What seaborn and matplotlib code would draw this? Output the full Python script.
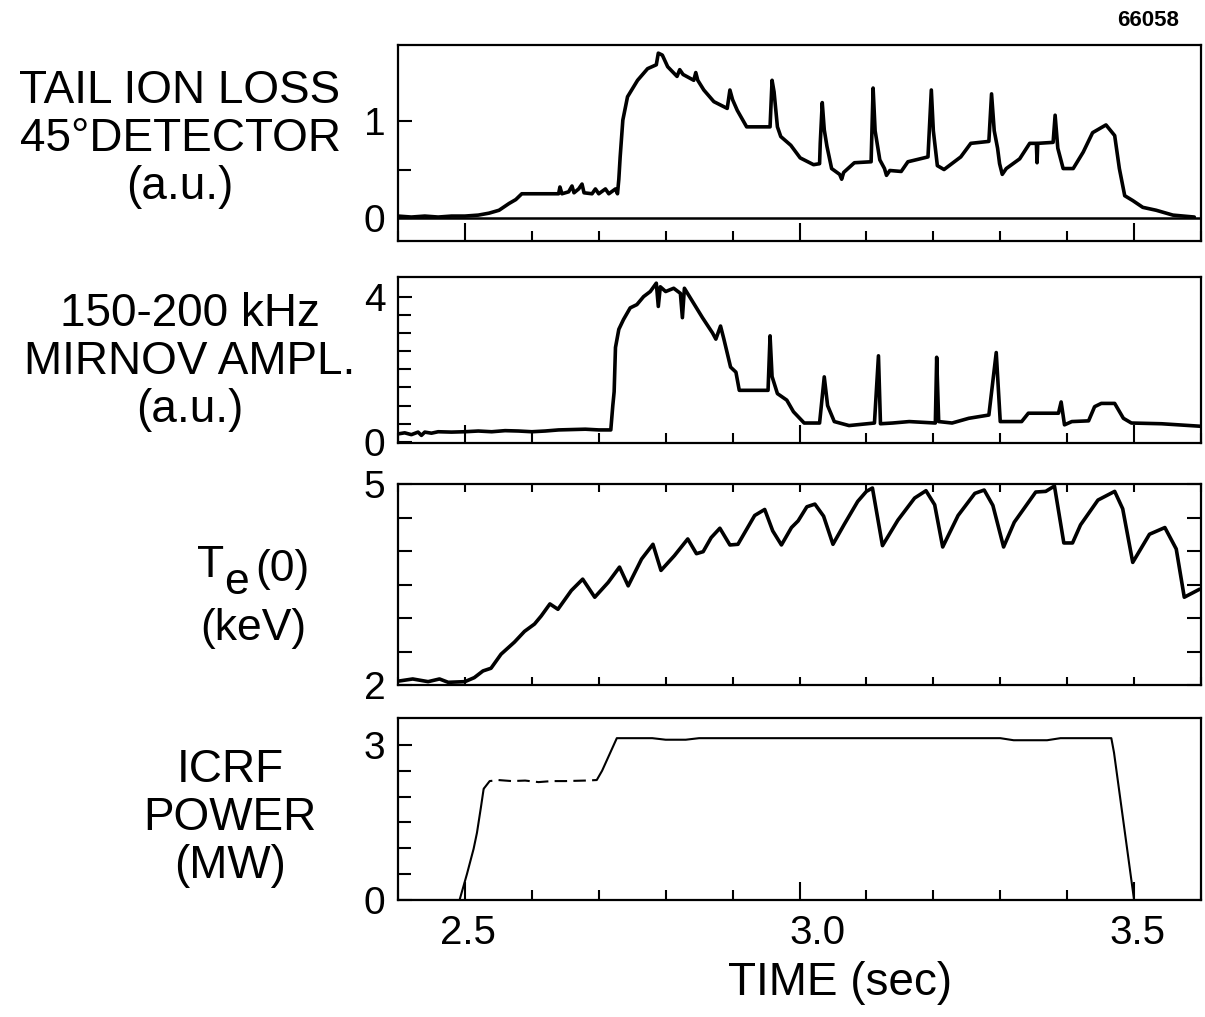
import matplotlib
matplotlib.use("Agg")
import matplotlib.pyplot as plt
from matplotlib.ticker import MultipleLocator, FixedLocator
import matplotlib.transforms as mtrans
import numpy as np
import pandas as pd
import seaborn as sns

# ---------------- data ----------------
loss_t = [2.40, 2.42, 2.44, 2.46, 2.48, 2.50, 2.52, 2.536, 2.551, 2.566, 2.576, 2.585, 2.60,
          2.62, 2.64, 2.642, 2.645, 2.655, 2.66, 2.663, 2.67, 2.675, 2.678, 2.69, 2.695, 2.70,
          2.71, 2.715, 2.725, 2.728, 2.730, 2.732, 2.736, 2.743, 2.758, 2.773, 2.786, 2.789,
          2.795, 2.803, 2.817, 2.821, 2.826, 2.842, 2.845, 2.848, 2.857, 2.872, 2.892, 2.896,
          2.900, 2.907, 2.921, 2.956, 2.959, 2.962, 2.967, 2.972, 2.987, 3.001, 3.021, 3.030,
          3.031, 3.034, 3.037, 3.041, 3.048, 3.060, 3.063, 3.066, 3.082, 3.107, 3.110, 3.113,
          3.120, 3.127, 3.130, 3.135, 3.152, 3.162, 3.192, 3.197, 3.200, 3.206, 3.216, 3.241,
          3.256, 3.283, 3.287, 3.291, 3.296, 3.299, 3.303, 3.309, 3.329, 3.344, 3.354, 3.355,
          3.356, 3.379, 3.382, 3.386, 3.394, 3.409, 3.424, 3.438, 3.458, 3.471, 3.478, 3.486,
          3.498, 3.513, 3.533, 3.558, 3.59]
loss_v = [0.02, 0.01, 0.02, 0.01, 0.02, 0.02, 0.03, 0.05, 0.08, 0.15, 0.19, 0.25, 0.25,
          0.25, 0.25, 0.32, 0.25, 0.27, 0.33, 0.26, 0.30, 0.35, 0.26, 0.25, 0.30, 0.25,
          0.30, 0.25, 0.30, 0.25, 0.40, 0.63, 1.01, 1.25, 1.42, 1.54, 1.58, 1.70,
          1.68, 1.56, 1.46, 1.53, 1.48, 1.42, 1.50, 1.42, 1.32, 1.20, 1.13, 1.32,
          1.22, 1.11, 0.94, 0.94, 1.42, 1.30, 0.94, 0.84, 0.75, 0.62, 0.55, 0.56,
          0.77, 1.19, 0.91, 0.74, 0.51, 0.45, 0.40, 0.47, 0.57, 0.58, 1.34, 0.90,
          0.60, 0.51, 0.44, 0.49, 0.48, 0.58, 0.63, 1.32, 0.90, 0.54, 0.50, 0.63,
          0.77, 0.79, 1.28, 0.90, 0.72, 0.56, 0.45, 0.51, 0.61, 0.77, 0.77, 0.57,
          0.77, 0.78, 1.06, 0.72, 0.51, 0.51, 0.68, 0.88, 0.96, 0.85, 0.51, 0.23,
          0.18, 0.11, 0.08, 0.03, 0.01]

mirnov_t = [2.40, 2.41, 2.42, 2.43, 2.435, 2.44, 2.45, 2.46, 2.48, 2.50, 2.52, 2.54, 2.56,
            2.58, 2.60, 2.62, 2.64, 2.66, 2.68, 2.70, 2.718, 2.721, 2.723, 2.725, 2.730,
            2.737, 2.747, 2.757, 2.767, 2.777, 2.786, 2.789, 2.792, 2.800, 2.812, 2.822,
            2.825, 2.828, 2.840, 2.855, 2.870, 2.875, 2.882, 2.887, 2.897, 2.905, 2.910,
            2.940, 2.953, 2.956, 2.959, 2.967, 2.981, 2.991, 3.007, 3.030, 3.037, 3.042,
            3.052, 3.074, 3.112, 3.118, 3.121, 3.139, 3.164, 3.203, 3.205, 3.208, 3.228,
            3.253, 3.283, 3.294, 3.300, 3.332, 3.342, 3.387, 3.391, 3.396, 3.407, 3.432,
            3.441, 3.451, 3.471, 3.484, 3.496, 3.541, 3.600]
mirnov_v = [0.22, 0.25, 0.20, 0.27, 0.18, 0.27, 0.24, 0.28, 0.27, 0.28, 0.30, 0.28, 0.31,
            0.30, 0.28, 0.30, 0.33, 0.34, 0.35, 0.33, 0.33, 1.00, 1.38, 2.60, 3.10,
            3.37, 3.69, 3.78, 4.00, 4.14, 4.37, 3.73, 4.27, 4.14, 4.23, 4.09,
            3.42, 4.23, 3.87, 3.42, 3.00, 2.83, 3.19, 2.83, 2.06, 1.92, 1.42,
            1.42, 1.42, 2.92, 1.80, 1.33, 1.15, 0.83, 0.52, 0.52, 1.79, 1.00,
            0.56, 0.45, 0.52, 2.37, 0.50, 0.52, 0.56, 0.52, 2.33, 0.56, 0.52,
            0.65, 0.74, 2.46, 0.56, 0.56, 0.79, 0.79, 1.10, 0.47, 0.56, 0.58,
            0.97, 1.06, 1.06, 0.65, 0.52, 0.50, 0.43]

te_t = [2.402, 2.422, 2.445, 2.462, 2.475, 2.500, 2.514, 2.527, 2.539, 2.554, 2.574, 2.589,
        2.604, 2.614, 2.627, 2.639, 2.659, 2.676, 2.694, 2.714, 2.731, 2.744, 2.764, 2.781,
        2.793, 2.813, 2.833, 2.846, 2.856, 2.868, 2.881, 2.896, 2.908, 2.933, 2.948, 2.960,
        2.973, 2.988, 2.998, 3.011, 3.023, 3.036, 3.050, 3.067, 3.087, 3.100, 3.109, 3.124,
        3.147, 3.172, 3.189, 3.202, 3.214, 3.237, 3.262, 3.276, 3.289, 3.305, 3.321, 3.353,
        3.368, 3.381, 3.395, 3.408, 3.420, 3.446, 3.471, 3.483, 3.498, 3.523, 3.546, 3.563,
        3.575, 3.598]
te_v = [2.06, 2.09, 2.05, 2.09, 2.04, 2.05, 2.11, 2.21, 2.25, 2.46, 2.64, 2.80,
        2.91, 3.03, 3.21, 3.13, 3.41, 3.58, 3.31, 3.53, 3.76, 3.48, 3.88, 4.10,
        3.71, 3.93, 4.18, 3.96, 3.99, 4.20, 4.34, 4.09, 4.10, 4.53, 4.62, 4.30,
        4.09, 4.35, 4.45, 4.66, 4.70, 4.52, 4.10, 4.40, 4.74, 4.89, 4.94, 4.08,
        4.46, 4.79, 4.90, 4.69, 4.06, 4.53, 4.86, 4.91, 4.68, 4.06, 4.43, 4.88,
        4.89, 4.97, 4.12, 4.12, 4.39, 4.76, 4.89, 4.63, 3.83, 4.25, 4.35, 4.03,
        3.31, 3.43]

icrf_t = [2.40, 2.492, 2.503, 2.513, 2.518, 2.524, 2.528, 2.537, 2.55, 2.57, 2.59, 2.61,
          2.63, 2.65, 2.68, 2.697, 2.705, 2.727, 2.78, 2.80, 2.83, 2.85, 3.00, 3.30, 3.32,
          3.37, 3.39, 3.466, 3.47, 3.50, 3.60]
icrf_v = [0.0, 0.0, 0.5, 0.99, 1.30, 1.80, 2.15, 2.30, 2.32, 2.30, 2.31, 2.28,
          2.30, 2.30, 2.31, 2.32, 2.50, 3.13, 3.13, 3.10, 3.10, 3.13, 3.13, 3.13, 3.09,
          3.09, 3.13, 3.13, 2.85, 0.0, 0.0]

panel_labels = ["TAIL ION LOSS\n45°DETECTOR\n(a.u.)",
                "150-200 kHz\nMIRNOV AMPL.\n(a.u.)",
                "",
                "ICRF\nPOWER\n(MW)"]
te_label_parts = ["T", "e", "(0)", "(keV)"]
x_ticks = [2.5, 3.0, 3.5]
x_tick_labels = ["2.5", "3.0", "3.5"]
x_label = "TIME (sec)"
run_id = "66058"

# ---------------- style ----------------
sns.set_theme(style="ticks")
plt.rcParams["font.family"] = ["Liberation Sans", "DejaVu Sans"]
for k in ["text.color", "axes.labelcolor", "xtick.color", "ytick.color",
          "xtick.labelcolor", "ytick.labelcolor", "axes.edgecolor"]:
    plt.rcParams[k] = "black"
plt.rcParams["axes.linewidth"] = 1.6

W, H = 1205, 1017
fig = plt.figure(figsize=(W / 100, H / 100), dpi=100)
fig.patch.set_facecolor("white")

L, R = 398, 1201
boxes = [(45, 241), (277, 443), (484, 685), (718, 900)]
axes = []
for top, bot in boxes:
    axes.append(fig.add_axes([L / W, 1 - bot / H, (R - L) / W, (bot - top) / H]))
ax1, ax2, ax3, ax4 = axes

lw = 2.6
df1 = pd.DataFrame({"t": loss_t, "v": loss_v})
sns.lineplot(data=df1, x="t", y="v", ax=ax1, color="black", linewidth=lw,
             estimator=None, sort=False)
ax1.axhline(0, color="black", linewidth=1.8)

df2 = pd.DataFrame({"t": mirnov_t, "v": mirnov_v})
sns.lineplot(data=df2, x="t", y="v", ax=ax2, color="black", linewidth=lw,
             estimator=None, sort=False)

df3 = pd.DataFrame({"t": te_t, "v": te_v})
sns.lineplot(data=df3, x="t", y="v", ax=ax3, color="black", linewidth=lw,
             estimator=None, sort=False)

df4 = pd.DataFrame({"t": icrf_t, "v": icrf_v})
solid_a = df4[df4.t <= 2.528]
dashed = df4[(df4.t >= 2.528) & (df4.t <= 2.697)]
solid_b = df4[df4.t >= 2.697]
for part, ls in [(solid_a, "-"), (dashed, (0, (6, 3))), (solid_b, "-")]:
    sns.lineplot(data=part, x="t", y="v", ax=ax4, color="black", linewidth=1.5,
                 linestyle=ls, estimator=None, sort=False)

ylims = [(-0.237, 1.784), (-0.03, 4.54), (2.0, 5.0), (0.0, 3.52)]
ymajor = [[0, 1], [0, 4], [2, 5], [0, 3]]
yminor = [[0.5], [0.5, 1, 1.5, 2, 2.5, 3, 3.5], [2.5, 3, 3.5, 4, 4.5], [0.5, 1, 1.5, 2, 2.5]]

for i, ax in enumerate(axes):
    ax.set_facecolor("white")
    ax.set_xlim(2.4, 3.6)
    ax.set_ylim(*ylims[i])
    ax.xaxis.set_major_locator(FixedLocator(x_ticks))
    ax.xaxis.set_minor_locator(MultipleLocator(0.1))
    ax.yaxis.set_major_locator(FixedLocator(ymajor[i]))
    ax.yaxis.set_minor_locator(FixedLocator(yminor[i]))
    ax.set_xlabel("")
    ax.set_ylabel(panel_labels[i], rotation=0, fontsize=33, ha="center", va="center",
                  multialignment="center", linespacing=1.13)
    for s in ax.spines.values():
        s.set_visible(True)
        s.set_color("black")
        s.set_linewidth(1.6)
    ax.tick_params(axis="both", which="both", direction="in", color="black", width=1.5)
    ax.tick_params(axis="y", which="major", length=10, labelsize=28, pad=9)
    ax.tick_params(axis="y", which="minor", length=9)
    ax.tick_params(axis="x", which="major", length=13, labelsize=29, pad=10)
    ax.tick_params(axis="x", which="minor", length=7)
    if i < 3:
        ax.tick_params(axis="x", which="both", labelbottom=False)

ax3.tick_params(axis="both", which="both", right=True, top=True)
ax3.tick_params(axis="x", which="both", length=6)
ax3.tick_params(axis="y", which="both", length=10)

ax4.set_xticklabels(x_tick_labels)
# the "3.0" label sits a little right of its tick in the reference
for lab, dx in zip(ax4.get_xticklabels(), [3, 18, 3]):
    lab.set_transform(lab.get_transform() +
                      mtrans.ScaledTranslation(dx / 100, 0, fig.dpi_scale_trans))
ax4.set_xlabel(x_label, fontsize=33)
ax4.xaxis.set_label_coords((840 - L) / (R - L), -0.335)

label_pos = [(180, 139), (190, 362), (253, 598), (230, 818)]
for ax, (px, py), (top, bot) in zip(axes, label_pos, boxes):
    ax.yaxis.set_label_coords((px - L) / (R - L), (bot - py) / (bot - top))

# T_e(0) label with a large, lowered subscript as in the reference
fs = 32
fig.text(197 / W, 1 - 577 / H, te_label_parts[0], fontsize=fs, ha="left", va="baseline")
fig.text(224 / W, 1 - 594 / H, te_label_parts[1], fontsize=fs, ha="left", va="baseline")
fig.text(255 / W, 1 - 581 / H, te_label_parts[2], fontsize=fs, ha="left", va="baseline")
fig.text(253 / W, 1 - 640 / H, te_label_parts[3], fontsize=fs, ha="center", va="baseline")

fig.text(1148 / W, 1 - 21 / H, run_id, fontsize=16, fontweight="bold",
         ha="center", va="center")

fig.savefig("out.png", dpi=100, facecolor="white")
